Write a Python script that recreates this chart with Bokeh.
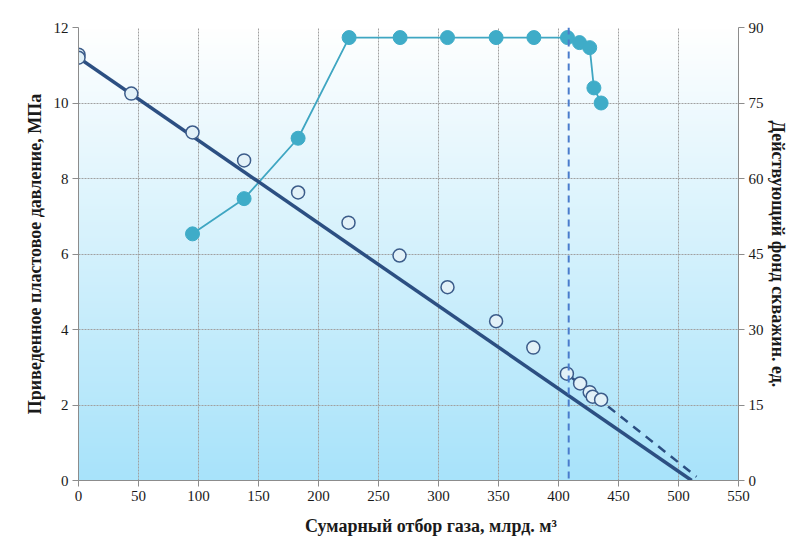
import numpy as np
from bokeh.plotting import figure
from bokeh.models import Range1d, LinearAxis, FixedTicker, Span
from bokeh.embed import file_html
from bokeh.resources import INLINE

# Cumulative gas production (bcm) and reduced reservoir pressure (MPa)
prod_x = [0, 0, 44, 95, 138, 183, 225, 267.5, 307.5, 348, 379, 407, 418, 426, 428.5, 435.5]
pressure = [11.28, 11.2, 10.25, 9.22, 8.48, 7.63, 6.83, 5.96, 5.12, 4.22, 3.52, 2.83, 2.57, 2.34, 2.22, 2.14]

# Active well count (right axis)
wells_x = [95, 138, 183, 225.5, 268, 307.5, 348, 379.5, 407.5, 417.5, 426, 429.5, 435.5]
wells = [49, 56, 68, 88, 88, 88, 88, 88, 88, 87, 86, 78, 75]

# Pressure decline trend and its late-stage extrapolation
trend_x = [0, 511]
trend_y = [11.2, 0]
late_x = [410, 515]
late_y = [2.75, 0.1]
cutoff_x = 408.5

x_ticks = list(range(0, 551, 50))
p_ticks = list(range(0, 13, 2))
w_ticks = list(range(0, 91, 15))

serif = "Liberation Serif"
label_color = "#1a1a1a"

p = figure(width=790, height=551, output_backend="svg", toolbar_location=None,
           x_range=Range1d(0, 550), y_range=Range1d(0, 12),
           min_border_left=78, min_border_right=52, min_border_top=27, min_border_bottom=71)
p.extra_y_ranges = {"wells": Range1d(0, 90)}
p.outline_line_color = None
p.background_fill_color = "white"
p.border_fill_color = "white"

# vertical white-to-sky-blue gradient behind the plot area
n = 256
t = np.linspace(0, 1, n)[:, None]
top = np.array([255, 255, 255])
bot = np.array([168, 227, 250])
rgb = (bot * (1 - t) + top * t).astype(np.uint32)
img = np.empty((n, 2), dtype=np.uint32)
view = img.view(dtype=np.uint8).reshape((n, 2, 4))
view[:, :, 0] = rgb[:, 0:1]
view[:, :, 1] = rgb[:, 1:2]
view[:, :, 2] = rgb[:, 2:3]
view[:, :, 3] = 255
p.image_rgba(image=[img], x=0, y=0, dw=550, dh=12, level="image")

# grid
for g in (p.xgrid, p.ygrid):
    g.grid_line_color = "#a0a0a0"
    g.grid_line_dash = "2 1"
    g.grid_line_width = 1
p.xgrid.ticker = FixedTicker(ticks=x_ticks)
p.ygrid.ticker = FixedTicker(ticks=p_ticks)

def style_axis(ax):
    ax.axis_line_color = "#8c8c8c"
    ax.major_tick_line_color = "#8c8c8c"
    ax.major_tick_out = 6
    ax.major_tick_in = 0
    ax.minor_tick_line_color = None
    ax.major_label_text_font = serif
    ax.major_label_text_font_size = "15px"
    ax.major_label_text_color = label_color
    ax.major_label_standoff = 4
    ax.axis_label_text_font = serif
    ax.axis_label_text_font_size = "18px"
    ax.axis_label_text_font_style = "bold"
    ax.axis_label_text_color = label_color

p.xaxis.ticker = FixedTicker(ticks=x_ticks)
# leading no-break spaces nudge the centred title a little to the right
p.xaxis.axis_label = "\u00a0" * 10 + "Сумарный отбор газа, млрд. м³"
p.yaxis.ticker = FixedTicker(ticks=p_ticks)
p.yaxis.axis_label = "Приведенное пластовое давление, МПа"
style_axis(p.xaxis[0])
style_axis(p.yaxis[0])
p.xaxis.axis_label_standoff = 12
p.yaxis.axis_label_standoff = 6

right = LinearAxis(y_range_name="wells", ticker=FixedTicker(ticks=w_ticks),
                   axis_label="Действующий фонд скважин. ед.")
style_axis(right)
right.major_label_standoff = 4
right.axis_label_standoff = 1
p.add_layout(right, "right")

# active wells
p.line(wells_x, wells, y_range_name="wells", line_color="#3fa6c2", line_width=1.8)
p.scatter(wells_x, wells, y_range_name="wells", size=14, fill_color="#3facc8",
          line_color="#3facc8")

# pressure trend and extrapolation
p.line(trend_x, trend_y, line_color="#2c4f82", line_width=3.5)
p.line(late_x, late_y, line_color="#2c4f82", line_width=2.5, line_dash="9 7")

p.add_layout(Span(location=cutoff_x, dimension="height", line_color="#4a7ccc",
                  line_width=2, line_dash="7 5"))

# measured pressure
p.scatter(prod_x, pressure, size=13, fill_color="#e2f1f8", line_color="#3c5c8a",
          line_width=1.5)

open("out.html", "w").write(file_html(p, INLINE))
